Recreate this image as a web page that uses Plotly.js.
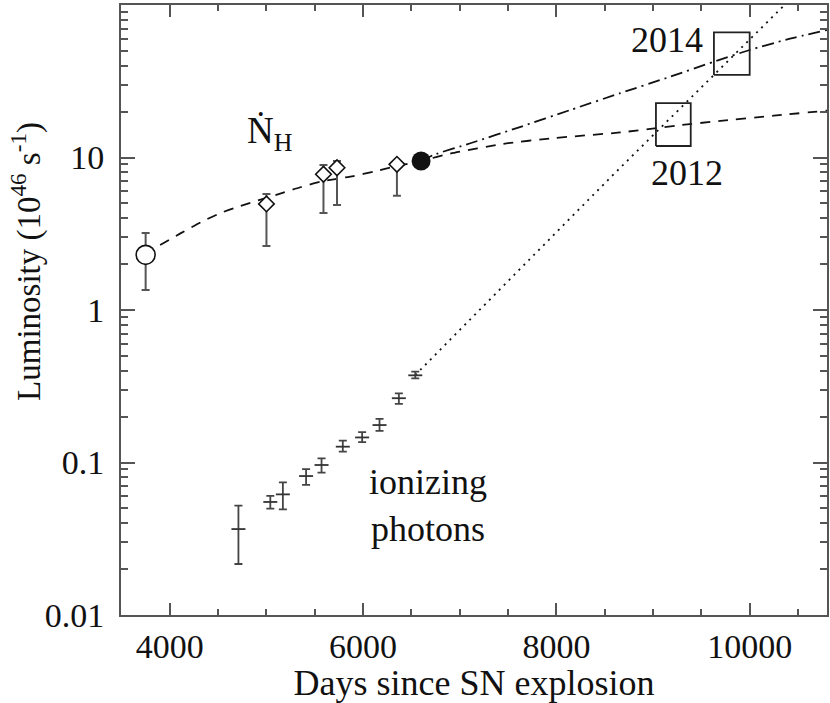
<!DOCTYPE html>
<html>
<head>
<meta charset="utf-8">
<script src="https://cdn.plot.ly/plotly-3.0.1.min.js"></script>
<style>
html,body{margin:0;padding:0;background:#fff;}
#chart{width:830px;height:703px;}
#chart text, #chart tspan { font-family: 'Liberation Serif', 'Times New Roman', serif !important; }
</style>
</head>
<body>
<div id="chart"></div>
<script>
// ---- Data ----
// Observed hydrogen recombination rate (N-dot H)
const nhDays  = [3750, 5000, 5590, 5730, 6350];
const nhLum   = [2.30, 4.96, 7.76, 8.57, 9.02];
const nhUpper = [3.20, 5.77, 8.93, 9.48, 9.40];
const nhLower = [1.35, 2.63, 4.33, 4.88, 5.62];

// Start of extrapolations (filled circle)
const startDay = [6600];
const startLum = [9.49];

// Ionizing photons
const ionDays  = [4710, 5040, 5170, 5410, 5570, 5790, 5990, 6170, 6370, 6540];
const ionLum   = [0.0366, 0.0551, 0.0618, 0.0815, 0.0963, 0.127, 0.146, 0.176, 0.264, 0.373];
const ionUpper = [0.0521, 0.0605, 0.0741, 0.0905, 0.1065, 0.139, 0.158, 0.193, 0.284, 0.394];
const ionLower = [0.0216, 0.0498, 0.0493, 0.0714, 0.0857, 0.118, 0.136, 0.161, 0.242, 0.356];

// Dashed fit curve
const dashDays = [3900, 4110, 4320, 4520, 4730, 5150, 5350, 5560, 5900, 6110, 6320, 6600, 6900, 7455, 7970, 8660, 9250, 9700, 10250, 10800];
const dashLum  = [2.67, 3.18, 3.76, 4.31, 4.81, 5.82, 6.38, 6.94, 7.56, 8.07, 8.70, 9.49, 10.6, 12.3, 13.4, 14.6, 16.2, 17.4, 18.8, 20.3];

// Dash-dot curve
const dashDotDays = [6600, 6730, 7110, 7630, 8145, 8660, 9180, 9630, 10000, 10390, 10800];
const dashDotLum  = [9.49, 10.4, 12.4, 15.9, 20.5, 26.4, 33.9, 42.5, 50.7, 59.5, 68.6];

// Dotted ionizing-photon extrapolation
const dotDays = [6540, 8560, 10360];
const dotLum  = [0.375, 7.4, 100];

// Boxes (2012, 2014): day range and luminosity range
const box2012Days = [9030, 9390];
const box2012Lum  = [11.9, 22.7];
const box2014Days = [9630, 10000];
const box2014Lum  = [34.8, 66.2];

// Tick labels
const xTickVals = [4000, 6000, 8000, 10000];
const xTickText = ['4000', '6000', '8000', '10000'];
const yTickVals = [0.01, 0.1, 1, 10, 100];
const yTickText = ['0.01', '0.1', '1', '10', '100'];

// ---- Build ----
var SERIF = 'Liberation Serif';
var INK = '#111';
var AX = '#555';

function diff(a, b) { return a.map(function (v, i) { return v - b[i]; }); }
function rect(xs, ys) {
  return { x: [xs[0], xs[1], xs[1], xs[0], xs[0]], y: [ys[0], ys[0], ys[1], ys[1], ys[0]] };
}

var r12 = rect(box2012Days, box2012Lum);
var r14 = rect(box2014Days, box2014Lum);

var traces = [
  { x: dashDays, y: dashLum, mode: 'lines', line: { color: INK, width: 1.8, dash: '10px,8px', shape: 'spline', smoothing: 0.6 }, hoverinfo: 'skip' },
  { x: dashDotDays, y: dashDotLum, mode: 'lines', line: { color: INK, width: 1.8, dash: '12px,5px,2px,5px', shape: 'spline', smoothing: 0.6 }, hoverinfo: 'skip' },
  { x: dotDays, y: dotLum, mode: 'lines', line: { color: INK, width: 1.8, dash: '2px,5px' }, hoverinfo: 'skip' },
  { x: r12.x, y: r12.y, mode: 'lines', line: { color: '#222', width: 1.8 }, hoverinfo: 'skip' },
  { x: r14.x, y: r14.y, mode: 'lines', line: { color: '#222', width: 1.8 }, hoverinfo: 'skip' },
  {
    x: nhDays, y: nhLum, mode: 'markers',
    marker: { symbol: ['circle', 'diamond', 'diamond', 'diamond', 'diamond'], size: [19, 12, 12, 12, 12], opacity: 1, color: '#fff', line: { color: INK, width: 1.6 } },
    error_y: { type: 'data', symmetric: false, array: diff(nhUpper, nhLum), arrayminus: diff(nhLum, nhLower), color: AX, thickness: 2, width: 4 }
  },
  { x: startDay, y: startLum, mode: 'markers', marker: { symbol: 'circle', size: 19, opacity: 1, color: INK, line: { width: 0 } } },
  {
    x: ionDays, y: ionLum, mode: 'markers',
    marker: { symbol: 'line-ew', size: 10, opacity: 1, color: '#333', line: { color: '#333', width: 1.8 } },
    error_y: { type: 'data', symmetric: false, array: diff(ionUpper, ionLum), arrayminus: diff(ionLum, ionLower), color: '#444', thickness: 1.8, width: 4 }
  }
];

var layout = {
  width: 830, height: 703,
  margin: { l: 121, r: 3, t: 5, b: 88 },
  paper_bgcolor: '#fff', plot_bgcolor: '#fff',
  showlegend: false,
  font: { family: SERIF },
  xaxis: {
    range: [3495, 10800],
    showline: true, linecolor: AX, linewidth: 2, mirror: 'ticks',
    ticks: 'inside', ticklen: 12, tickwidth: 1.5, tickcolor: AX,
    tickmode: 'array', tickvals: xTickVals, ticktext: xTickText,
    tickfont: { family: SERIF, size: 34, color: INK },
    ticklabelstandoff: 0,
    minor: { tickmode: 'linear', tick0: 0, dtick: 500, ticks: 'inside', ticklen: 6, tickwidth: 1.5, tickcolor: AX, showgrid: false },
    showgrid: false, zeroline: false,
    title: { text: 'Days since SN explosion', font: { family: SERIF, size: 36, color: INK }, standoff: 0 }
  },
  yaxis: {
    type: 'log', range: [-2, 2],
    showline: true, linecolor: AX, linewidth: 2, mirror: 'ticks',
    ticks: 'inside', ticklen: 14, tickwidth: 1.5, tickcolor: AX,
    tickmode: 'array', tickvals: yTickVals, ticktext: yTickText,
    tickfont: { family: SERIF, size: 34, color: INK },
    ticklabelstandoff: 8,
    minor: { tickmode: 'linear', dtick: 'D1', ticks: 'inside', ticklen: 7, tickwidth: 1.5, tickcolor: AX, showgrid: false },
    showgrid: false, zeroline: false
  },
  annotations: [
    { xref: 'paper', yref: 'paper', x: -0.133, y: 0.579, text: 'Luminosity (10<sup>46</sup> s<sup>-1</sup>)', textangle: -90, showarrow: false, xanchor: 'center', yanchor: 'middle', font: { family: SERIF, size: 33, color: INK } },
    { x: 9140, y: 1.77, text: '2014', showarrow: false, font: { family: SERIF, size: 36, color: INK } },
    { x: 9355, y: 0.898, text: '2012', showarrow: false, font: { family: SERIF, size: 36, color: INK } },
    { x: 6670, y: -1.282, text: 'ionizing<br>photons', showarrow: false, font: { family: SERIF, size: 36, color: INK } },
    { x: 5030, y: 1.16, text: 'Ṅ<sub>H</sub>', showarrow: false, font: { family: SERIF, size: 37, color: INK } }
  ]
};

Plotly.newPlot('chart', traces, layout, { displayModeBar: false });
</script>
</body>
</html>
